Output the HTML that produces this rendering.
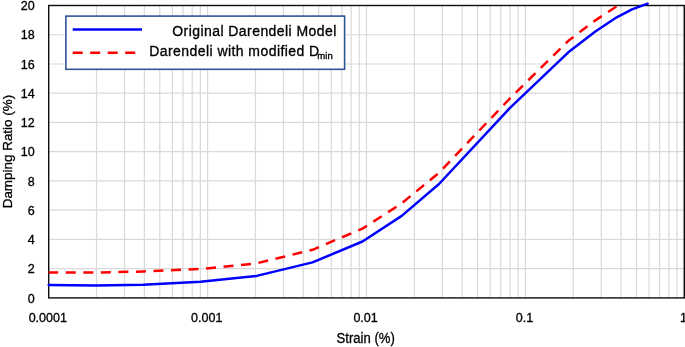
<!DOCTYPE html><html><head><meta charset="utf-8"><style>html,body{margin:0;padding:0;background:#fff;}body{width:685px;height:347px;overflow:hidden;}svg{display:block;will-change:transform;}text{stroke:#000;stroke-width:0.32px;}svg{font-family:"Liberation Sans",sans-serif;}</style></head><body>
<svg width="685" height="347" viewBox="0 0 685 347">
<rect width="685" height="347" fill="#fff"/>
<path d="M96.53 5.5V297.9 M124.51 5.5V297.9 M144.37 5.5V297.9 M159.77 5.5V297.9 M172.35 5.5V297.9 M182.99 5.5V297.9 M192.20 5.5V297.9 M200.33 5.5V297.9 M207.60 5.5V297.9 M255.43 5.5V297.9 M283.41 5.5V297.9 M303.27 5.5V297.9 M318.67 5.5V297.9 M331.25 5.5V297.9 M341.89 5.5V297.9 M351.10 5.5V297.9 M359.23 5.5V297.9 M366.50 5.5V297.9 M414.33 5.5V297.9 M442.31 5.5V297.9 M462.17 5.5V297.9 M477.57 5.5V297.9 M490.15 5.5V297.9 M500.79 5.5V297.9 M510.00 5.5V297.9 M518.13 5.5V297.9 M525.40 5.5V297.9 M573.23 5.5V297.9 M601.21 5.5V297.9 M621.07 5.5V297.9 M636.47 5.5V297.9 M649.05 5.5V297.9 M659.69 5.5V297.9 M668.90 5.5V297.9 M677.03 5.5V297.9 M684.3 5.5V297.9 M48.7 268.66H684.3 M48.7 239.42H684.3 M48.7 210.18H684.3 M48.7 180.94H684.3 M48.7 151.70H684.3 M48.7 122.46H684.3 M48.7 93.22H684.3 M48.7 63.98H684.3 M48.7 34.74H684.3" stroke="#d9d9d9" stroke-width="1.2" fill="none"/>
<rect x="48.7" y="5.5" width="635.6" height="292.4" fill="none" stroke="#0d0d0d" stroke-width="1.4"/>
<polyline points="48.7,272.4 96.0,272.6 143.0,271.5 200.5,269.0 256.7,263.3 312.5,249.8 362.5,228.6 401.7,203.3 439.0,172.8 510.0,98.3 568.3,40.8 595.0,20.6 616.9,6.1" fill="none" stroke="#ff0000" stroke-width="2.5" stroke-dasharray="10 7.55" stroke-dashoffset="0.5" stroke-linejoin="round"/>
<polyline points="48.7,285.1 96.0,285.6 143.0,284.8 200.5,281.7 256.7,275.9 312.5,262.4 362.5,241.5 401.7,215.9 439.0,184.0 510.0,107.8 568.3,52.3 595.0,31.7 616.7,17.3 632.0,9.4 647.7,3.7" fill="none" stroke="#0000ff" stroke-width="2.5" stroke-linejoin="round" stroke-linecap="round"/>
<rect x="65.9" y="16.1" width="278.7" height="53.2" fill="#fff" stroke="#2f5597" stroke-width="1.6"/>
<path d="M72.7 29.6H142" stroke="#0000ff" stroke-width="2.5"/>
<path d="M72.7 52.7H136" stroke="#ff0000" stroke-width="2.5" stroke-dasharray="10 7.5"/>
<text x="172.3" y="36.2" font-size="14" textLength="164" lengthAdjust="spacing" fill="#000">Original Darendeli Model</text>
<text x="149.2" y="55.9" font-size="14" textLength="170" lengthAdjust="spacing" fill="#000">Darendeli with modified D</text>
<text x="317.2" y="58.9" font-size="9.5" textLength="15.5" lengthAdjust="spacing" fill="#000">min</text>
<text x="34.6" y="302.60" font-size="12.5" text-anchor="end" fill="#000">0</text>
<text x="34.6" y="273.36" font-size="12.5" text-anchor="end" fill="#000">2</text>
<text x="34.6" y="244.12" font-size="12.5" text-anchor="end" fill="#000">4</text>
<text x="34.6" y="214.88" font-size="12.5" text-anchor="end" fill="#000">6</text>
<text x="34.6" y="185.64" font-size="12.5" text-anchor="end" fill="#000">8</text>
<text x="34.6" y="156.40" font-size="12.5" text-anchor="end" fill="#000">10</text>
<text x="34.6" y="127.16" font-size="12.5" text-anchor="end" fill="#000">12</text>
<text x="34.6" y="97.92" font-size="12.5" text-anchor="end" fill="#000">14</text>
<text x="34.6" y="68.68" font-size="12.5" text-anchor="end" fill="#000">16</text>
<text x="34.6" y="39.44" font-size="12.5" text-anchor="end" fill="#000">18</text>
<text x="34.6" y="10.20" font-size="12.5" text-anchor="end" fill="#000">20</text>
<text x="47.80" y="321.6" font-size="12.5" text-anchor="middle" fill="#000">0.0001</text>
<text x="206.70" y="321.6" font-size="12.5" text-anchor="middle" fill="#000">0.001</text>
<text x="365.60" y="321.6" font-size="12.5" text-anchor="middle" fill="#000">0.01</text>
<text x="524.50" y="321.6" font-size="12.5" text-anchor="middle" fill="#000">0.1</text>
<text x="683.40" y="321.6" font-size="12.5" text-anchor="middle" fill="#000">1</text>
<text x="336.6" y="342.8" font-size="14" textLength="58.2" lengthAdjust="spacingAndGlyphs" fill="#000">Strain (%)</text>
<text transform="translate(12.0,208.3) rotate(-90)" x="0" y="0" font-size="13.4" textLength="113.5" lengthAdjust="spacingAndGlyphs" fill="#000">Damping Ratio (%)</text>
</svg></body></html>
